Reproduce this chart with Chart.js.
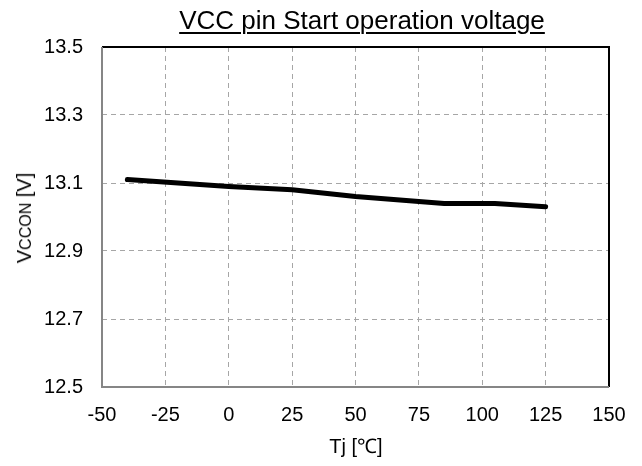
<!DOCTYPE html>
<html>
<head>
<meta charset="utf-8">
<script src="https://cdn.jsdelivr.net/npm/chart.js@4/dist/chart.umd.min.js"></script>
<style>
  html, body { margin: 0; padding: 0; background: #fff; }
  #wrap { position: relative; width: 642px; height: 466px; font-family: "Liberation Sans", Arial, sans-serif; color: #000; }
  canvas { position: absolute; left: 0; top: 0; }
  .title { position: absolute; left: 362px; top: 7px; transform: translateX(-50%); font-size: 26px; line-height: 26px; white-space: nowrap; text-decoration: underline; text-decoration-thickness: 2px; text-underline-offset: 3px; }
  .xtitle { position: absolute; left: 356px; top: 436px; transform: translateX(-50%); font-size: 20px; line-height: 20px; white-space: nowrap; }
  .ytitle { position: absolute; left: 25px; top: 218px; transform: translate(-50%, -50%) rotate(-90deg); font-size: 20px; line-height: 20px; white-space: nowrap; }
  .ytitle .sub { font-size: 0.8em; }
</style>
</head>
<body>
<div id="wrap">
  <canvas id="c" width="642" height="466"></canvas>
  <div class="title">VCC pin Start operation voltage</div>
  <div class="ytitle">V<span class="sub">CCON</span> [V]</div>
  <div class="xtitle">Tj [℃]</div>
</div>
<script>
// Data
const tempC = [-40, 0, 25, 50, 85, 105, 125];
const vccOn = [13.11, 13.09, 13.08, 13.06, 13.04, 13.04, 13.03];
const xTickLabels = ['-50', '-25', '0', '25', '50', '75', '100', '125', '150'];
const yTickLabels = ['12.5', '12.7', '12.9', '13.1', '13.3', '13.5'];

const points = tempC.map((t, i) => ({ x: t, y: vccOn[i] }));
const xTickVals = xTickLabels.map(Number);
const yTickVals = yTickLabels.map(Number);

const frame = {
  id: 'frame',
  afterDraw(chart) {
    const { ctx, chartArea: a } = chart;
    ctx.save();
    ctx.lineWidth = 2;
    ctx.strokeStyle = '#000';
    ctx.beginPath();
    ctx.moveTo(a.left, a.top);
    ctx.lineTo(a.right, a.top);
    ctx.lineTo(a.right, a.bottom);
    ctx.stroke();
    ctx.strokeStyle = '#868686';
    ctx.beginPath();
    ctx.moveTo(a.left, a.top);
    ctx.lineTo(a.left, a.bottom);
    ctx.lineTo(a.right, a.bottom);
    ctx.stroke();
    ctx.restore();
  }
};

const tickFont = { family: '"Liberation Sans", Arial, sans-serif', size: 20 };

new Chart(document.getElementById('c'), {
  type: 'line',
  data: {
    datasets: [{
      data: points,
      borderColor: '#000',
      borderWidth: 5,
      borderCapStyle: 'round',
      borderJoinStyle: 'round',
      pointRadius: 0,
      tension: 0,
      fill: false
    }]
  },
  options: {
    responsive: false,
    devicePixelRatio: 1,
    animation: false,
    layout: { padding: { left: 0, top: 47, right: 33, bottom: 0 } },
    plugins: { legend: { display: false }, tooltip: { enabled: false }, title: { display: false } },
    scales: {
      x: {
        type: 'linear',
        min: -50, max: 150,
        afterBuildTicks: s => { s.ticks = xTickVals.map(v => ({ value: v })); },
        afterFit: s => { s.height = 79; },
        ticks: {
          color: '#000', font: tickFont, padding: 16, maxRotation: 0, autoSkip: false,
          callback: (v) => xTickLabels[xTickVals.indexOf(v)]
        },
        grid: { color: '#a6a6a6', lineWidth: 1, drawTicks: false },
        border: { display: false, dash: [5, 4] }
      },
      y: {
        type: 'linear',
        min: 12.5, max: 13.5,
        afterBuildTicks: s => { s.ticks = yTickVals.map(v => ({ value: v })); },
        afterFit: s => { s.width = 102; },
        ticks: {
          color: '#000', font: tickFont, padding: 19, autoSkip: false,
          callback: (v) => yTickLabels[yTickVals.indexOf(v)]
        },
        grid: { color: '#a6a6a6', lineWidth: 1, drawTicks: false },
        border: { display: false, dash: [5, 4] }
      }
    }
  },
  plugins: [frame]
});
</script>
</body>
</html>
